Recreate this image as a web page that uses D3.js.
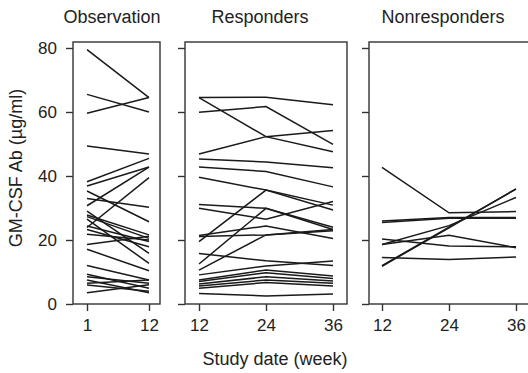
<!DOCTYPE html>
<html>
<head>
<meta charset="utf-8">
<script src="https://cdn.jsdelivr.net/npm/d3@7"></script>
<style>
  body { margin: 0; background: #fff; }
  svg text { font-family: "Liberation Sans", Arial, sans-serif; fill: #222; }
</style>
</head>
<body>
<svg id="paper"></svg>
<script>
// panel names and week ticks
let panelNames = ["Observation", "Responders", "Nonresponders"];
let weeksObs = [1, 12];
let weeksTx = [12, 24, 36];
let yTicks = [0, 20, 40, 60, 80];

// antibody level per patient, one row per line (µg/ml)
let observation = [
    [79.5, 64.5], [65.5, 60.0], [59.6, 64.5], [49.4, 46.9],
    [38.2, 45.5], [36.9, 42.8], [35.3, 25.7], [33.0, 30.2],
    [30.7, 42.8], [29.0, 15.8], [27.8, 21.6], [27.3, 20.5],
    [26.5, 12.7], [24.4, 19.5], [23.9, 39.5], [23.3, 17.9],
    [21.8, 20.0], [18.6, 21.2], [17.1, 10.4], [12.0, 7.5],
    [9.3, 4.9], [8.5, 6.5], [7.5, 3.5], [6.5, 7.5],
    [5.9, 4.0], [3.5, 6.0]
];
let responders = [
    [64.5, 64.6, 62.3], [64.5, 52.3, 47.6], [59.9, 61.7, 49.9],
    [46.9, 52.3, 54.2], [45.3, 44.4, 42.6], [42.8, 41.4, 36.6],
    [39.6, 35.6, 30.9], [31.1, 29.9, 23.3], [29.9, 26.5, 32.0],
    [21.4, 24.4, 20.5], [21.1, 21.6, 23.3], [19.5, 35.6, 29.4],
    [15.8, 13.5, 12.0], [12.5, 29.9, 24.0], [10.6, 21.6, 22.9],
    [9.1, 11.9, 13.4], [7.5, 10.6, 8.75], [7.0, 9.8, 8.0],
    [6.25, 8.5, 7.2], [5.6, 7.5, 6.5], [4.9, 6.7, 5.6],
    [3.3, 2.5, 3.1]
];
let nonresponders = [
    [42.7, 28.5, 28.9], [25.9, 27.0, 27.0], [25.5, 26.8, 26.8],
    [20.3, 18.1, 17.9], [18.6, 24.5, 33.3], [18.6, 21.5, 17.6],
    [14.5, 13.9, 14.7], [12.0, 24.0, 35.9], [11.8, 23.8, 36.0]
];

let width = 528, height = 373;
let frameTop = 42, frameBottom = 304;

let svg = d3.select("#paper").attr("width", width).attr("height", height);

let y = d3.scaleLinear().domain([0, 80]).range([frameBottom, 48]);

let panels = [
    {name: panelNames[0], weeks: weeksObs, data: observation, left: 73, right: 160, x0: 87, x1: 149},
    {name: panelNames[1], weeks: weeksTx, data: responders, left: 185, right: 347, x0: 199, x1: 333},
    {name: panelNames[2], weeks: weeksTx, data: nonresponders, left: 369, right: 531, x0: 382, x1: 516}
];

panels.forEach(function (p, i) {
    let x = d3.scaleLinear().domain(d3.extent(p.weeks)).range([p.x0, p.x1]);
    let g = svg.append("g");

    // frame
    g.append("rect")
        .attr("x", p.left).attr("y", frameTop)
        .attr("width", p.right - p.left).attr("height", frameBottom - frameTop)
        .attr("fill", "none").attr("stroke", "#333").attr("stroke-width", 1.4);

    // y axis
    let ya = g.append("g")
        .attr("transform", "translate(" + p.left + ",0)")
        .call(d3.axisLeft(y).tickValues(yTicks).tickSize(7).tickPadding(9)
            .tickFormat(i === 0 ? d3.format("d") : ""));
    ya.select(".domain").remove();
    ya.selectAll("line").attr("stroke", "#333").attr("stroke-width", 1.4);
    ya.selectAll("text").style("font-size", "17px").attr("fill", "#222");

    // x axis
    let xa = g.append("g")
        .attr("transform", "translate(0," + frameBottom + ")")
        .call(d3.axisBottom(x).tickValues(p.weeks).tickSize(7).tickPadding(8)
            .tickFormat(d3.format("d")));
    xa.select(".domain").remove();
    xa.selectAll("line").attr("stroke", "#333").attr("stroke-width", 1.4);
    xa.selectAll("text").style("font-size", "17px").attr("fill", "#222");

    // patient lines
    let line = d3.line()
        .x(function (d, j) { return x(p.weeks[j]); })
        .y(function (d) { return y(d); });
    g.selectAll("path.patient")
        .data(p.data)
        .enter()
        .append("path")
        .attr("class", "patient")
        .attr("d", line)
        .attr("fill", "none")
        .attr("stroke", "#1a1a1a")
        .attr("stroke-width", 1.5);

    // panel title, sits a little left of the tick centre
    g.append("text")
        .attr("x", (p.x0 + p.x1) / 2 - 6)
        .attr("y", 23)
        .attr("text-anchor", "middle")
        .style("font-size", "18px")
        .text(p.name);
});

svg.append("text")
    .attr("x", 275).attr("y", 365)
    .attr("text-anchor", "middle")
    .style("font-size", "18px")
    .text("Study date (week)");

svg.append("text")
    .attr("transform", "translate(22,168) rotate(-90)")
    .attr("text-anchor", "middle")
    .style("font-size", "18px")
    .text("GM-CSF Ab (µg/ml)");
</script>
</body>
</html>
